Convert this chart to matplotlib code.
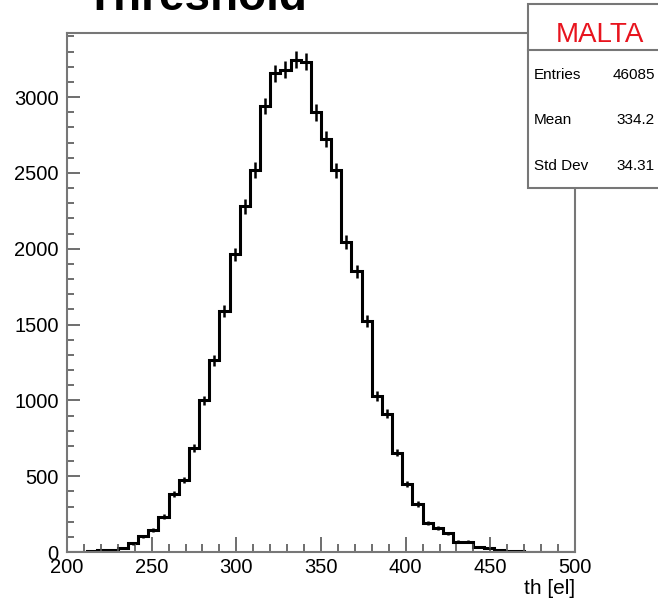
import numpy as np
import matplotlib
matplotlib.use("Agg")
import matplotlib.pyplot as plt
from matplotlib.patches import Rectangle
from matplotlib.ticker import MultipleLocator

plt.rcParams['font.family'] = ['Liberation Sans', 'DejaVu Sans']

# threshold histogram, 50 bins from 200 to 500 el
bin_edges = np.linspace(200, 500, 51)
counts = [2, 3, 6, 10, 14, 28, 57, 104, 145, 233,
          385, 476, 683, 1000, 1264, 1588, 1963, 2280, 2520, 2940,
          3157, 3180, 3247, 3234, 2899, 2723, 2517, 2044, 1853, 1522,
          1031, 912, 656, 449, 317, 190, 157, 124, 68, 68,
          35, 24, 13, 7, 4, 2, 1, 1, 0, 0]
stat_names = ["Entries", "Mean", "Std Dev"]
stat_values = ["46085", "334.2", "34.31"]

counts = np.array(counts, dtype=float)
centers = 0.5 * (bin_edges[:-1] + bin_edges[1:])

fig = plt.figure(figsize=(6.58, 6.02), dpi=100)
ax = fig.add_axes([67/658, 1 - 552/602, (575 - 67)/658, (552 - 33)/602])

ax.stairs(counts, bin_edges, color='black', lw=2.2)
ax.errorbar(centers, counts, yerr=np.sqrt(counts), fmt='none',
            ecolor='black', elinewidth=1.8)

ax.set_xlim(200, 500)
ax.set_ylim(0, 3423)
ax.xaxis.set_major_locator(MultipleLocator(50))
ax.xaxis.set_minor_locator(MultipleLocator(10))
ax.yaxis.set_major_locator(MultipleLocator(500))
ax.yaxis.set_minor_locator(MultipleLocator(100))
ax.tick_params(axis='x', which='major', direction='in', length=11, width=1.2,
               color='#555555', labelsize=14.5, pad=4)
ax.tick_params(axis='x', which='minor', direction='in', length=6, width=1.2,
               color='#555555')
ax.tick_params(axis='y', which='major', direction='in', length=9, width=1.2,
               color='#555555', labelsize=14.5, pad=6)
ax.tick_params(axis='y', which='minor', direction='in', length=5, width=1.2,
               color='#555555')
for s in ax.spines.values():
    s.set_color('#777777')
    s.set_linewidth(1.5)

ax.set_xlabel("th [el]", fontsize=15, loc='right', labelpad=2)

fig.text(86/658, 1 - 10/602, "Threshold", fontsize=33, fontweight='bold',
         ha='left', va='baseline')

# stats box
box = Rectangle((528/658, 1 - 188/602), 140/658, (188 - 4)/602,
                transform=fig.transFigure, facecolor='white',
                edgecolor='#777777', lw=1.5, zorder=5)
fig.add_artist(box)
fig.add_artist(plt.Line2D([528/658, 1.0], [1 - 50/602, 1 - 50/602],
                          transform=fig.transFigure, color='#777777',
                          lw=1.5, zorder=6))
fig.text(600/658, 1 - 35/602, "MALTA", color='#e8141e', fontsize=20,
         ha='center', va='center', zorder=7)
for i, (name, val) in enumerate(zip(stat_names, stat_values)):
    y = 1 - (75 + 45.5 * i)/602
    fig.text(534/658, y, name, fontsize=11, ha='left', va='center', zorder=7)
    fig.text(655/658, y, val, fontsize=11, ha='right', va='center', zorder=7)

fig.savefig("out.png", dpi=100)
